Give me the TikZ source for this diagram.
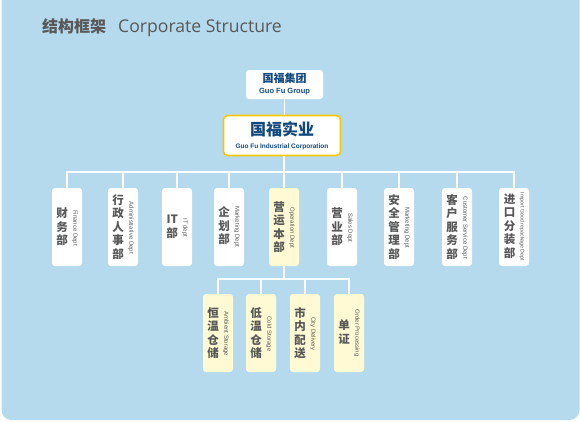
\documentclass[tikz,border=0pt]{standalone}
\usepackage{fontspec}
\setmainfont{Liberation Sans}
\newfontfamily\cjk{Noto Sans CJK SC}
\newfontfamily\titlefont{Open Sans}
\usetikzlibrary{positioning}
\definecolor{bgblue}{RGB}{181,218,237}
\definecolor{txtgray}{RGB}{88,88,88}
\definecolor{grpblue}{RGB}{18,72,128}
\definecolor{paleyellow}{RGB}{255,250,212}
\definecolor{gold}{RGB}{247,200,0}
\newcommand{\deptlabel}[3][6]{\parbox[c]{12pt}{\centering\cjk\bfseries\fontsize{11.5}{13.5}\selectfont #2}\hspace{4pt}\rotatebox[origin=c]{-90}{\fontsize{#1}{7}\selectfont #3}}
\tikzset{
  dept/.style={rectangle, rounded corners=3pt, fill=white, minimum width=30pt, minimum height=78pt, inner sep=0pt, text=txtgray},
  sub/.style={dept, fill=paleyellow},
  link/.style={white, line width=1.2pt},
}

\begin{document}
\begin{tikzpicture}[x=1pt, y=-1pt]
\useasboundingbox (0,0) rectangle (580,421);
\fill[white] (0,0) rectangle (580,421);
\begin{scope}
\clip (0,0) rectangle (580,421);
\fill[bgblue, rounded corners=10pt] (1.5,-20) rectangle (579.5,420);
\end{scope}
\node[anchor=west, text=txtgray, inner sep=0pt] (title) at (42,28) {{\cjk\bfseries\fontsize{16}{18}\selectfont 结构框架}\hspace{12pt}{\titlefont\fontsize{17.6}{20}\selectfont Corporate Structure}};
\node[rectangle, rounded corners=3pt, fill=white, minimum width=77pt, minimum height=29pt, inner sep=0pt, align=center, text=grpblue] (grp) at (284.5,84.5) {{\cjk\bfseries\fontsize{11}{13}\selectfont 国福集团}\\[-1pt]{\bfseries\fontsize{7.5}{9}\selectfont Guo Fu Group}};
\node[rectangle, rounded corners=4pt, fill=white, draw=gold, line width=1.6pt, minimum width=117pt, minimum height=40pt, inner sep=0pt, align=center, text=grpblue] (corp) at (282,135.5) {{\cjk\bfseries\fontsize{16}{18}\selectfont 国福实业}\\[1pt]{\bfseries\fontsize{6.5}{8}\selectfont Guo Fu Industrial Corporation}};
\node[dept] (fin) at (67,227) {\deptlabel{财\\务\\部}{Finance Dept}};
\node[dept] (adm) at (123,227) {\deptlabel{行\\政\\人\\事\\部}{Administrative Dept}};
\node[dept] (it) at (177,227) {\deptlabel{IT\\部}{IT dept}};
\node[dept] (mkt) at (229,227) {\deptlabel{企\\划\\部}{Marketing Dept}};
\node[dept, fill=paleyellow] (ops) at (284,227) {\deptlabel{营\\运\\本\\部}{Operation Dept}};
\node[dept] (sal) at (342,227) {\deptlabel{营\\业\\部}{Sales Dept}};
\node[dept] (saf) at (399,227) {\deptlabel{安\\全\\管\\理\\部}{Marketing Dept}};
\node[dept] (cs) at (457,227) {\deptlabel{客\\户\\服\\务\\部}{Customer Service Dept}};
\node[dept] (imp) at (514,227) {\deptlabel[5.3]{进\\口\\分\\装\\部}{Import Good repackage Dept}};
\node[sub] (amb) at (218,333) {\deptlabel{恒\\温\\仓\\储}{Ambient Storage}};
\node[sub] (cold) at (261,333) {\deptlabel{低\\温\\仓\\储}{Cold Storage}};
\node[sub] (city) at (305,333) {\deptlabel{市\\内\\配\\送}{City Delivery}};
\node[sub] (ord) at (349,333) {\deptlabel{单\\证}{Order Processing}};
\coordinate (hub) at (284,172);
\coordinate (subhub) at (284,279);
\draw[link] (grp.south) -- (grp.south |- corp.north);
\draw[link] (corp.south -| hub) -- (hub) -| (fin.north);
\draw[link] (hub) -| (adm.north);
\draw[link] (hub) -| (it.north);
\draw[link] (hub) -| (mkt.north);
\draw[link] (hub) -- (ops.north);
\draw[link] (hub) -| (sal.north);
\draw[link] (hub) -| (saf.north);
\draw[link] (hub) -| (cs.north);
\draw[link] (hub) -| (imp.north);
\draw[link] (ops.south) -- (subhub) -| (amb.north);
\draw[link] (subhub) -| (cold.north);
\draw[link] (subhub) -| (city.north);
\draw[link] (subhub) -| (ord.north);
\end{tikzpicture}
\end{document}
